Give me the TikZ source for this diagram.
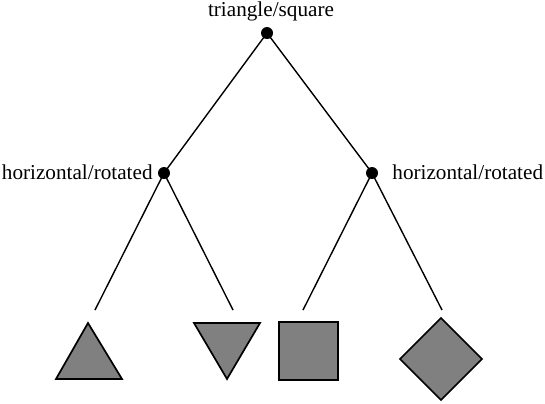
\documentclass[tikz,border=0pt]{standalone}
\usepackage{fontspec}
\setmainfont{Liberation Serif}
\begin{document}
\begin{tikzpicture}[x=0.5pt,y=-0.5pt]
  \tikzset{dot/.style={circle,fill=black,inner sep=0pt,minimum size=6pt},
    branch/.style={line width=0.7pt},
    leaf/.style={draw=black,fill=gray,line width=0.85pt,line join=miter},
    lab/.style={inner sep=0pt,font=\fontsize{10.6}{12}\selectfont}}
  \useasboundingbox (0,0) rectangle (545,403);
  % split nodes
  \node[dot] (top) at (267,33) {};
  \node[dot] (left) at (164,173) {};
  \node[dot] (right) at (372,173) {};
  \node[lab,anchor=base] (toplab) at (271,16) {triangle/square};
  \node[lab,anchor=base east] (leftlab) at (153,179) {horizontal/rotated};
  \node[lab,anchor=base west] (rightlab) at (392,179) {horizontal/rotated};
  % free ends of the branches
  \coordinate (upend) at (95,310);
  \coordinate (downend) at (233,310);
  \coordinate (sqend) at (303,310);
  \coordinate (diaend) at (442,310);
  \draw[branch] (top.center) -- (left.center);
  \draw[branch] (top.center) -- (right.center);
  \draw[branch] (left.center) -- (upend);
  \draw[branch] (left.center) -- (downend);
  \draw[branch] (right.center) -- (sqend);
  \draw[branch] (right.center) -- (diaend);
  % leaves
  \draw[leaf] (56,379) -- (122,379) -- (88,323) -- cycle;
  \draw[leaf] (194,323) -- (260,323) -- (227,379) -- cycle;
  \draw[leaf] (279,322) rectangle (338,380);
  \draw[leaf] (441,318) -- (482,359) -- (441,400) -- (400,359) -- cycle;
\end{tikzpicture}
\end{document}
